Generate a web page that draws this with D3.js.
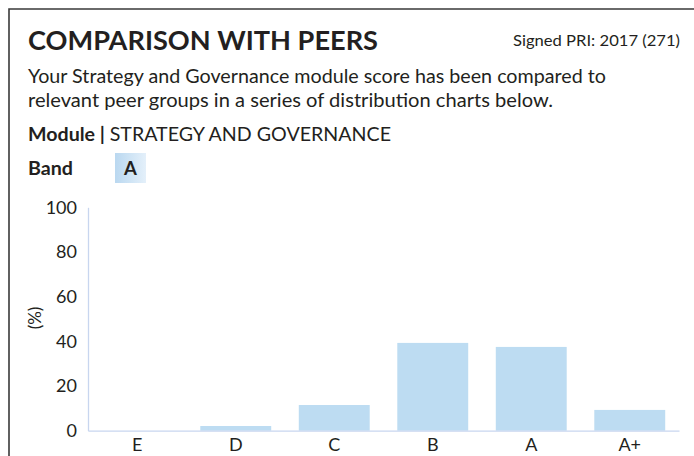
<!DOCTYPE html>
<html>
<head>
<meta charset="utf-8">
<script src="https://cdn.jsdelivr.net/npm/d3@7"></script>
<style>
  html, body { margin: 0; padding: 0; background: #fff; }
  svg { display: block; font-family: Lato, "Open Sans", sans-serif; }
</style>
</head>
<body>
<svg id="chart" width="694" height="456"></svg>
<script>
const categories = ["E", "D", "C", "B", "A", "A+"];
const values = [0, 2.1, 11.5, 39.3, 37.5, 9.3];
const yTicks = [0, 20, 40, 60, 80, 100];
const title = "COMPARISON WITH PEERS";
const signed = "Signed PRI: 2017 (271)";
const intro = ["Your Strategy and Governance module score has been compared to",
               "relevant peer groups in a series of distribution charts below."];
const moduleName = "STRATEGY AND GOVERNANCE";
const band = "A";

const svg = d3.select("#chart");
const textColor = "#231f20";

// frame
svg.append("path").attr("d", "M9,456 V9 H694")
  .attr("fill", "none").attr("stroke", "#3a3a3a").attr("stroke-width", 1.6);

svg.append("text").attr("x", 28).attr("y", 50).text(title)
  .attr("font-size", 26.5).attr("font-weight", 700).attr("fill", textColor)
  .attr("textLength", 350).attr("lengthAdjust", "spacingAndGlyphs");
svg.append("text").attr("x", 513).attr("y", 46).text(signed)
  .attr("font-size", 15.5).attr("fill", textColor)
  .attr("textLength", 167).attr("lengthAdjust", "spacingAndGlyphs");

const introWidths = [578, 525];
intro.forEach((t, i) => {
  svg.append("text").attr("x", 28).attr("y", 83 + i * 24).text(t)
    .attr("font-size", 18.5).attr("fill", textColor)
    .attr("textLength", introWidths[i]).attr("lengthAdjust", "spacingAndGlyphs");
});

const mod = svg.append("text").attr("x", 28).attr("y", 141).attr("font-size", 18.5).attr("fill", textColor)
  .attr("textLength", 363).attr("lengthAdjust", "spacingAndGlyphs");
mod.append("tspan").attr("font-weight", 700).text("Module | ");
mod.append("tspan").text(moduleName);

svg.append("text").attr("x", 28).attr("y", 175).text("Band")
  .attr("font-size", 18.5).attr("font-weight", 700).attr("fill", textColor)
  .attr("textLength", 45).attr("lengthAdjust", "spacingAndGlyphs");

const defs = svg.append("defs");
const grad = defs.append("linearGradient").attr("id", "bandGrad");
grad.append("stop").attr("offset", "0%").attr("stop-color", "#bad8f0");
grad.append("stop").attr("offset", "100%").attr("stop-color", "#e4f0fa");
svg.append("rect").attr("x", 115).attr("y", 153).attr("width", 31).attr("height", 30)
  .attr("fill", "url(#bandGrad)");
svg.append("text").attr("x", 130.5).attr("y", 175).attr("text-anchor", "middle").text(band)
  .attr("font-size", 18.5).attr("font-weight", 700).attr("fill", textColor);

// chart
const x = d3.scaleBand().domain(categories).range([88, 679]).paddingInner(0.28).paddingOuter(0.14);
const y = d3.scaleLinear().domain([0, 100]).range([430.7, 207.3]);

svg.append("g").selectAll("rect").data(categories).join("rect")
  .attr("x", d => x(d)).attr("width", x.bandwidth())
  .attr("y", (d, i) => y(values[i])).attr("height", (d, i) => y(0) - y(values[i]))
  .attr("fill", "#bddcf2");

const axisColor = "#c8d6ef";
const yAxis = svg.append("g").attr("transform", "translate(88,0)")
  .call(d3.axisLeft(y).tickValues(yTicks).tickSize(0).tickPadding(11));
yAxis.select(".domain").attr("stroke", axisColor).attr("stroke-width", 1.3);
yAxis.selectAll("text").attr("font-size", 18).attr("fill", textColor).attr("font-family", "Lato, sans-serif");

const xAxis = svg.append("g").attr("transform", `translate(0,${y(0)})`)
  .call(d3.axisBottom(x).tickSize(0).tickPadding(8));
xAxis.select(".domain").attr("stroke", axisColor).attr("stroke-width", 1.3);
xAxis.selectAll("text").attr("font-size", 18).attr("fill", textColor).attr("font-family", "Lato, sans-serif");

svg.append("text").attr("transform", "translate(41,318) rotate(-90)")
  .attr("text-anchor", "middle").text("(%)")
  .attr("font-size", 17).attr("fill", textColor);
</script>
</body>
</html>
